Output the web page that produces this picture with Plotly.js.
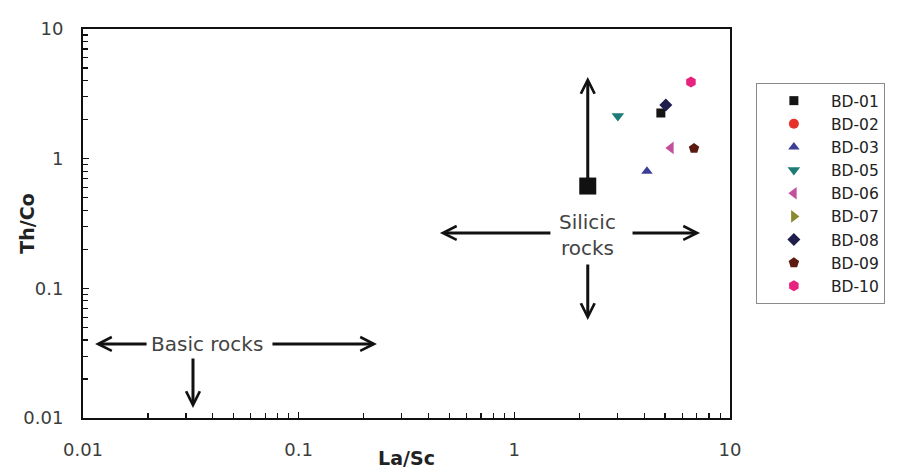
<!DOCTYPE html>
<html>
<head>
<meta charset="utf-8">
<script src="https://cdn.plot.ly/plotly-3.0.1.min.js"></script>
<style>html,body{margin:0;padding:0;background:#fff;}#chart{width:898px;height:469px;}</style>
</head>
<body>
<div id="chart"></div>
<script>
// ---- data ----
const samples = ["BD-01","BD-02","BD-03","BD-05","BD-06","BD-07","BD-08","BD-09","BD-10"];
const laSc   = [4.78, null, 4.12, 3.02, 5.32, null, 5.04, 6.81, 6.59];
const thCo   = [2.25, null, 0.80, 2.13, 1.21, null, 2.59, 1.20, 3.90];
const symbols = ["square","circle","triangle-up","triangle-down","triangle-left","triangle-right","diamond","pentagon","hexagon"];
const colors  = ["#151515","#e8302a","#3b3f96","#1d7c77","#c2509c","#8b8a2e","#1e1d4c","#5b1b12","#e8237f"];
const sizes   = [9,10,10,11,11,11,10,11,11];
// Silicic-rocks reference marker (big square at arrow origin)
const refX = [2.19];
const refY = [0.615];
// axis ticks
const xTickVals = [0.01, 0.1, 1, 10];
const xTickText = ["0.01", "0.1", "1", "10"];
const yTickVals = [0.01, 0.1, 1, 10];
const yTickText = ["0.01", "0.1", "1", "10"];

const minorVals = [];
[0.01, 0.1, 1].forEach(d => { for (let k = 2; k <= 9; k++) minorVals.push(d * k); });

const traces = samples.map((s, i) => ({
  type: "scatter", mode: "markers", name: s,
  x: [laSc[i]], y: [thCo[i]],
  marker: {symbol: symbols[i], color: colors[i], size: sizes[i], line: {width: 0}}
}));
traces.unshift({
  type: "scatter", mode: "markers", x: refX, y: refY, showlegend: false, hoverinfo: "skip",
  marker: {symbol: "square", color: "#111", size: 17}
});

const lx = v => Math.log10(v);
const arrowStyle = {showarrow: true, arrowhead: 5, arrowsize: 0.9, arrowwidth: 3, arrowcolor: "#111", axref: "pixel", ayref: "pixel", text: ""};
const annFont = {family: "'DejaVu Sans', sans-serif", size: 20, color: "#444"};

const annotations = [
  // Silicic rocks
  Object.assign({x: lx(refX[0]), y: 0.63, ax: 0, ay: 109}, arrowStyle),
  Object.assign({x: -0.345, y: -0.573, ax: 112, ay: 0}, arrowStyle),
  Object.assign({x: 0.861, y: -0.573, ax: -69, ay: 0}, arrowStyle),
  Object.assign({x: lx(refX[0]), y: -1.244, ax: 0, ay: -57}, arrowStyle),
  {x: lx(refX[0]), y: -0.59, text: "Silicic<br>rocks", showarrow: false, font: annFont, align: "center"},
  // Basic rocks
  Object.assign({x: -1.944, y: -1.429, ax: 53, ay: 0}, arrowStyle),
  Object.assign({x: -0.637, y: -1.429, ax: -106, ay: 0}, arrowStyle),
  Object.assign({x: -1.49, y: -1.923, ax: 0, ay: -51}, arrowStyle),
  {x: -1.425, y: -1.429, text: "Basic rocks", showarrow: false, font: annFont}
];

const tickFont = {family: "'DejaVu Sans', sans-serif", size: 18, color: "#3c3c3c"};
const titleFont = {family: "'DejaVu Sans', sans-serif", size: 19, color: "#222", weight: "bold"};

const layout = {
  width: 898, height: 469,
  margin: {l: 83, r: 168, t: 29, b: 51, autoexpand: false},
  paper_bgcolor: "#fff", plot_bgcolor: "#fff",
  showlegend: true,
  xaxis: {
    type: "log", range: [-2, 1], showgrid: false, zeroline: false,
    showline: true, linecolor: "#111", linewidth: 2, mirror: true,
    ticks: "inside", ticklen: 6, tickwidth: 1.2, tickcolor: "#111",
    tickvals: xTickVals, ticktext: xTickText, tickfont: tickFont, ticklabelstandoff: 14,
    minor: {tickvals: minorVals, ticks: "inside", ticklen: 5, tickwidth: 1.2, tickcolor: "#111", showgrid: false},
    title: {text: "La/Sc", font: titleFont, standoff: 0}, automargin: false
  },
  yaxis: {
    type: "log", range: [-2, 1], showgrid: false, zeroline: false,
    showline: true, linecolor: "#111", linewidth: 2, mirror: true,
    ticks: "inside", ticklen: 6, tickwidth: 1.2, tickcolor: "#111",
    tickvals: yTickVals, ticktext: yTickText, tickfont: tickFont, ticklabelstandoff: 14,
    minor: {tickvals: minorVals, ticks: "inside", ticklen: 5, tickwidth: 1.2, tickcolor: "#111", showgrid: false},
    title: {text: "Th/Co", font: titleFont}, automargin: false
  },
  legend: {
    x: 1.040, y: 0.861, xanchor: "left", yanchor: "top",
    bgcolor: "#fff", bordercolor: "#8a8a8a", borderwidth: 1,
    font: {family: "'DejaVu Sans', sans-serif", size: 15.5, color: "#222"},
    itemwidth: 64, tracegroupgap: 0, entrywidth: 140
  },
  annotations: annotations
};

Plotly.newPlot("chart", traces, layout, {displayModeBar: false, staticPlot: true});
</script>
</body>
</html>
